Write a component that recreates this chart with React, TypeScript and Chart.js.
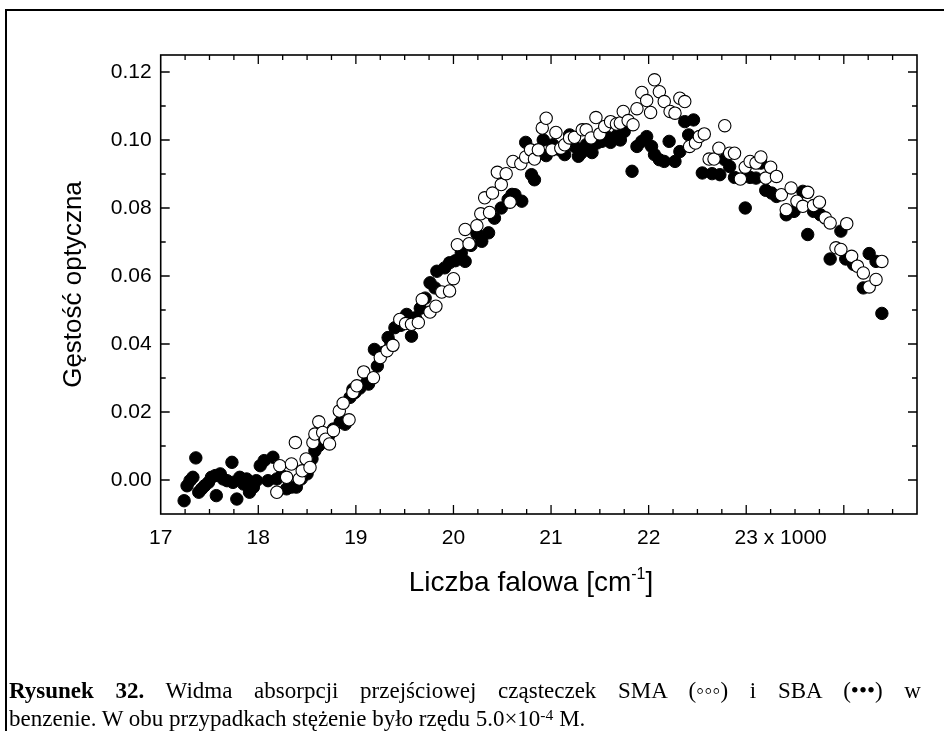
import React, { useEffect, useRef } from 'react';
import { Chart, registerables } from 'chart.js';
Chart.register(...registerables);

// SMA (open circles)
const smaX = [18.19,18.22,18.29,18.34,18.38,18.42,18.45,18.49,18.53,18.56,18.58,18.62,18.66,18.69,18.73,18.77,18.83,18.87,18.93,18.97,19.01,19.08,19.18,19.25,19.32,19.38,19.45,19.51,19.57,19.64,19.68,19.76,19.82,19.88,19.96,20.00,20.04,20.12,20.16,20.24,20.28,20.32,20.37,20.40,20.45,20.49,20.54,20.58,20.61,20.69,20.74,20.79,20.83,20.87,20.91,20.95,21.01,21.05,21.10,21.14,21.19,21.24,21.32,21.36,21.41,21.46,21.50,21.55,21.61,21.67,21.71,21.74,21.79,21.84,21.88,21.93,21.98,22.02,22.06,22.11,22.16,22.22,22.27,22.32,22.37,22.42,22.48,22.52,22.57,22.62,22.67,22.72,22.78,22.83,22.88,22.94,22.99,23.04,23.10,23.15,23.20,23.25,23.31,23.36,23.41,23.46,23.52,23.58,23.63,23.69,23.75,23.81,23.86,23.92,23.97,24.03,24.08,24.14,24.20,24.26,24.33,24.39];
const smaY = [-0.0036,0.0042,0.0008,0.0047,0.011,0.0003,0.0027,0.0062,0.0037,0.011,0.0135,0.0171,0.014,0.012,0.0106,0.0145,0.0203,0.0226,0.0177,0.0257,0.0277,0.0318,0.0301,0.036,0.038,0.0396,0.0472,0.046,0.0458,0.0463,0.0531,0.0494,0.0511,0.0553,0.0556,0.0592,0.0692,0.0737,0.0695,0.0748,0.0783,0.083,0.0787,0.0844,0.0905,0.0869,0.0901,0.0817,0.0937,0.093,0.095,0.0971,0.0944,0.0971,0.1035,0.1064,0.0971,0.1022,0.0976,0.0986,0.1006,0.1008,0.103,0.103,0.1006,0.1066,0.1018,0.104,0.1054,0.1047,0.105,0.1084,0.1057,0.1045,0.1092,0.114,0.1116,0.1081,0.1177,0.1142,0.1113,0.1084,0.1079,0.1123,0.1113,0.0981,0.0991,0.101,0.1018,0.0944,0.0944,0.0976,0.1042,0.0961,0.0961,0.0885,0.092,0.0937,0.0932,0.095,0.0888,0.092,0.0893,0.0839,0.0795,0.0859,0.082,0.0805,0.0846,0.0807,0.0817,0.0771,0.0756,0.0683,0.0678,0.0754,0.0658,0.0629,0.0609,0.0568,0.059,0.0643];

// SBA (filled circles)
const sbaX = [17.24,17.27,17.30,17.33,17.36,17.39,17.42,17.45,17.49,17.52,17.56,17.57,17.61,17.64,17.68,17.73,17.74,17.78,17.81,17.85,17.88,17.91,17.95,17.98,18.02,18.06,18.10,18.15,18.19,18.24,18.29,18.34,18.39,18.44,18.50,18.55,18.58,18.62,18.67,18.72,18.77,18.84,18.89,18.94,18.97,18.99,19.04,19.11,19.13,19.19,19.22,19.28,19.33,19.36,19.40,19.46,19.52,19.57,19.61,19.66,19.71,19.76,19.81,19.83,19.91,19.96,20.02,20.08,20.12,20.18,20.24,20.29,20.36,20.42,20.49,20.56,20.60,20.63,20.70,20.74,20.80,20.83,20.92,20.95,21.02,21.09,21.14,21.19,21.24,21.28,21.31,21.36,21.42,21.47,21.52,21.57,21.61,21.67,21.71,21.75,21.83,21.88,21.93,21.98,22.03,22.06,22.11,22.16,22.21,22.27,22.32,22.37,22.41,22.46,22.55,22.65,22.73,22.78,22.83,22.88,22.99,23.04,23.10,23.15,23.20,23.26,23.31,23.41,23.49,23.58,23.63,23.69,23.76,23.86,23.97,24.02,24.10,24.20,24.26,24.33,24.39];
const sbaY = [-0.0061,-0.0017,-0.0002,0.0008,0.0065,-0.0036,-0.0026,-0.0017,-0.0007,0.0008,0.0013,-0.0046,0.0018,0.0003,-0.0002,0.0052,-0.0007,-0.0056,0.0008,-0.0012,0.0003,-0.0036,-0.0021,-0.0002,0.0042,0.0057,-0.0002,0.0067,0.0003,0.0013,-0.0026,-0.0021,-0.0021,0.0003,0.0018,0.0062,0.0086,0.0101,0.012,0.013,0.015,0.017,0.0164,0.0243,0.0267,0.0257,0.027,0.0287,0.0282,0.0384,0.0335,0.0375,0.0419,0.040,0.0448,0.0455,0.0487,0.0423,0.0477,0.0505,0.0535,0.058,0.0565,0.0614,0.0624,0.0639,0.0645,0.0668,0.0643,0.069,0.0725,0.0702,0.0727,0.077,0.08,0.0825,0.084,0.0839,0.082,0.0993,0.0898,0.0883,0.1,0.0954,0.0986,0.0971,0.0957,0.1015,0.0981,0.0952,0.0962,0.0986,0.0963,0.0991,0.0996,0.101,0.0993,0.1012,0.1,0.1025,0.0908,0.0981,0.0996,0.101,0.0981,0.0957,0.0942,0.0937,0.0996,0.0937,0.0966,0.1054,0.1015,0.1059,0.0903,0.0901,0.0898,0.0942,0.0922,0.089,0.08,0.089,0.0888,0.0932,0.0852,0.0844,0.0834,0.078,0.079,0.0849,0.0722,0.079,0.078,0.065,0.0732,0.065,0.0634,0.0565,0.0666,0.0643,0.049];

const xMajorTicks = [17, 18, 19, 20, 21, 22, 23, 24];
const xTickLabels = ['17', '18', '19', '20', '21', '22', '23', ''];
const xTickSuffix = ' x 1000';
const yMajorTicks = [0, 0.02, 0.04, 0.06, 0.08, 0.1, 0.12];
const yTickLabels = ['0.00', '0.02', '0.04', '0.06', '0.08', '0.10', '0.12'];
const xMin = 17, xMax = 24.75, xMinorStep = 0.25;
const yMin = -0.01, yMax = 0.125, yMinorStep = 0.01;
const xTitle = 'Liczba falowa [cm';
const xTitleSup = '-1';
const xTitleEnd = ']';
const yTitle = 'Gęstość optyczna';

const SANS = '"Liberation Sans", Arial, sans-serif';

const axesPlugin = {
  id: 'originAxes',
  afterDraw(chart: any) {
    const { ctx, chartArea: a, scales } = chart;
    const xs = scales.x, ys = scales.y;
    ctx.save();
    ctx.strokeStyle = '#000';
    ctx.fillStyle = '#000';
    ctx.lineWidth = 1.6;
    ctx.strokeRect(a.left, a.top, a.right - a.left, a.bottom - a.top);
    ctx.lineWidth = 1.3;
    // x ticks
    const nx = Math.round((xMax - xMin) / xMinorStep);
    for (let i = 1; i < nx; i++) {
      const v = xMin + i * xMinorStep;
      const px = xs.getPixelForValue(v);
      const len = i % 4 === 0 ? 9 : 5;
      ctx.beginPath();
      ctx.moveTo(px, a.bottom); ctx.lineTo(px, a.bottom - len);
      ctx.moveTo(px, a.top); ctx.lineTo(px, a.top + len);
      ctx.stroke();
    }
    // y ticks
    const ny0 = Math.round(yMin / yMinorStep), ny1 = Math.floor(yMax / yMinorStep + 1e-9);
    for (let i = ny0 + 1; i <= ny1; i++) {
      const v = i * yMinorStep;
      const py = ys.getPixelForValue(v);
      const len = i % 2 === 0 ? 9 : 5;
      ctx.beginPath();
      ctx.moveTo(a.left, py); ctx.lineTo(a.left + len, py);
      ctx.moveTo(a.right, py); ctx.lineTo(a.right - len, py);
      ctx.stroke();
    }
    // tick labels
    ctx.font = '21px ' + SANS;
    ctx.textBaseline = 'middle';
    ctx.textAlign = 'right';
    yMajorTicks.forEach((v, i) => {
      ctx.fillText(yTickLabels[i], a.left - 9, ys.getPixelForValue(v));
    });
    ctx.textBaseline = 'alphabetic';
    xMajorTicks.forEach((v, i) => {
      const lab = xTickLabels[i];
      if (!lab) return;
      const px = xs.getPixelForValue(v);
      ctx.textAlign = 'center';
      ctx.fillText(lab, px, a.bottom + 30);
      if (i === xTickLabels.length - 2) {
        const w = ctx.measureText(lab).width;
        ctx.textAlign = 'left';
        ctx.fillText(xTickSuffix, px + w / 2, a.bottom + 30);
      }
    });
    // x title
    const mainFont = '28px ' + SANS, supFont = '16px ' + SANS;
    ctx.font = mainFont;
    const w1 = ctx.measureText(xTitle).width;
    const w3 = ctx.measureText(xTitleEnd).width;
    ctx.font = supFont;
    const w2 = ctx.measureText(xTitleSup).width;
    const cx = 531, by = 591;
    const x0 = cx - (w1 + w2 + w3) / 2;
    ctx.textAlign = 'left';
    ctx.font = mainFont;
    ctx.fillText(xTitle, x0, by);
    ctx.font = supFont;
    ctx.fillText(xTitleSup, x0 + w1, by - 12);
    ctx.font = mainFont;
    ctx.fillText(xTitleEnd, x0 + w1 + w2, by);
    // y title
    ctx.save();
    ctx.translate(81, (a.top + a.bottom) / 2);
    ctx.rotate(-Math.PI / 2);
    ctx.font = '26px ' + SANS;
    ctx.textAlign = 'center';
    ctx.fillText(yTitle, 0, 0);
    ctx.restore();
    ctx.restore();
  },
};

export default function App() {
  const ref = useRef<HTMLCanvasElement>(null);
  useEffect(() => {
    if (!ref.current) return;
    const chart = new Chart(ref.current, {
      type: 'scatter',
      data: {
        datasets: [
          {
            label: 'SMA',
            data: smaX.map((x, i) => ({ x, y: smaY[i] })),
            pointRadius: 6.2,
            pointBackgroundColor: '#fff',
            pointBorderColor: '#000',
            pointBorderWidth: 1.1,
          },
          {
            label: 'SBA',
            data: sbaX.map((x, i) => ({ x, y: sbaY[i] })),
            pointRadius: 6.2,
            pointBackgroundColor: '#000',
            pointBorderColor: '#000',
            pointBorderWidth: 1,
          },
        ],
      },
      options: {
        animation: false,
        responsive: false,
        devicePixelRatio: 1,
        layout: { padding: { left: 160.7, top: 55, right: 27, bottom: 217 } },
        plugins: { legend: { display: false }, tooltip: { enabled: false } },
        scales: {
          x: { type: 'linear', min: xMin, max: xMax, display: false },
          y: { type: 'linear', min: yMin, max: yMax, display: false },
        },
      },
      plugins: [axesPlugin],
    });
    return () => chart.destroy();
  }, []);

  const group: React.CSSProperties = { display: 'inline-block' };

  return (
    <div style={{ position: 'absolute', left: 0, top: 0, width: 944, height: 731, background: '#fff', overflow: 'hidden' }}>
      <div style={{ position: 'absolute', left: 5, top: 9, width: 1200, height: 1000, borderLeft: '2px solid #000', borderTop: '2px solid #000' }} />
      <canvas ref={ref} width={944} height={731} style={{ position: 'absolute', left: 0, top: 0 }} />
      <div
        style={{
          position: 'absolute', left: 9, top: 677, width: 912,
          fontFamily: '"Liberation Serif", "Times New Roman", serif', fontSize: 23, lineHeight: '28px',
          color: '#000',
        }}
      >
        <div style={{ whiteSpace: 'nowrap', textAlign: 'justify', textAlignLast: 'justify', textJustify: 'inter-word' } as any}>
          <b>Rysunek 32.</b> Widma absorpcji przejściowej cząsteczek SMA <span style={group}>(◦◦◦)</span> i SBA <span style={group}>(•••)</span> w
        </div>
        <div style={{ whiteSpace: 'nowrap' }}>
          benzenie. W obu przypadkach stężenie było rzędu 5.0×10<sup style={{ fontSize: '0.68em', verticalAlign: 'top', lineHeight: '1', position: 'relative', top: 2 }}>-4</sup> M.
        </div>
      </div>
    </div>
  );
}
